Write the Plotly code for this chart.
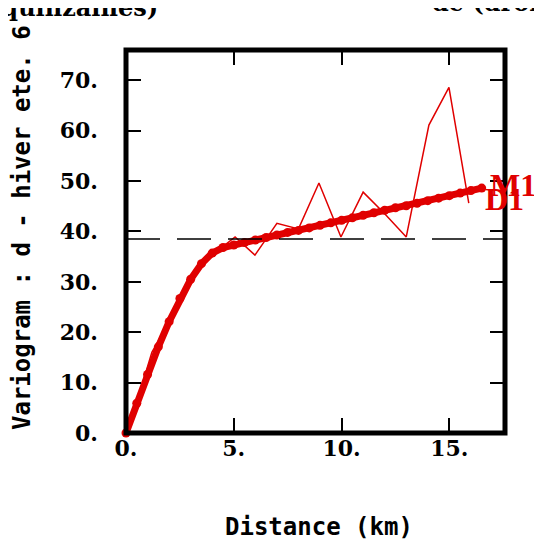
import plotly.graph_objects as go

# Experimental variogram (thin line)
exp_lag = [0, 0.6, 1.2, 2.0, 2.8, 3.5, 4.2, 5.06, 5.98, 7.0, 8.0, 8.95, 9.97, 11.0, 12.0, 13.0, 14.05, 14.98, 15.9]
exp_gamma = [0, 7.5, 16.0, 22.0, 29.0, 33.5, 36.0, 38.9, 35.3, 41.6, 40.5, 49.6, 38.9, 47.8, 43.5, 38.9, 61.1, 68.6, 45.6]

# Model variogram (thick line with dots)
mod_lag = [0, 0.5, 1.0, 1.5, 2.0, 2.5, 3.0, 3.5, 4.0, 4.5, 5.0, 5.5, 6.0, 6.5, 7.0, 7.5, 8.0,
           8.5, 9.0, 9.5, 10.0, 10.5, 11.0, 11.5, 12.0, 12.5, 13.0, 13.5, 14.0, 14.5, 15.0,
           15.5, 16.0, 16.5]
mod_gamma = [0, 5.9, 11.6, 17.1, 22.1, 26.7, 30.5, 33.6, 35.7, 36.8, 37.3, 37.8, 38.3, 38.8,
             39.3, 39.8, 40.2, 40.7, 41.2, 41.7, 42.2, 42.7, 43.2, 43.7, 44.2, 44.7, 45.1,
             45.6, 46.1, 46.6, 47.1, 47.6, 48.1, 48.6]

sill = 38.5

x_ticks = [0, 5, 10, 15]
x_ticktext = ["0.", "5.", "10.", "15."]
y_ticks = [0, 10, 20, 30, 40, 50, 60, 70]
y_ticktext = ["0.", "10.", "20.", "30.", "40.", "50.", "60.", "70."]

label_text = ["M1", "D1"]

RED = "#e00000"

# plot area in window pixels (page body has an 8px margin)
PL, PR, PT, PB = 126, 505, 50, 433
PW, PH = PR - PL, PB - PT
FW, FH = 534, 543


def px(xp):
    return (xp - PL) / PW


def py(yp):
    return (PB - yp) / PH


fig = go.Figure()
fig.add_trace(go.Scatter(x=mod_lag, y=mod_gamma, mode="lines+markers",
                         line=dict(color=RED, width=7),
                         marker=dict(color=RED, size=9),
                         showlegend=False, cliponaxis=False))
fig.add_trace(go.Scatter(x=exp_lag, y=exp_gamma, mode="lines",
                         line=dict(color=RED, width=1.5),
                         showlegend=False))

fig.add_shape(type="line", xref="paper", x0=0, x1=1, yref="y", y0=sill, y1=sill,
              line=dict(color="black", width=1.5, dash="34px,17px"))
fig.add_shape(type="rect", xref="paper", yref="paper", x0=0, x1=1, y0=0, y1=1,
              line=dict(color="black", width=5), layer="above")

label_pos = [(513, 185), (504, 199)]
for t, (lx, ly) in zip(label_text, label_pos):
    fig.add_annotation(x=px(lx), y=py(ly), xref="paper", yref="paper", text=t, showarrow=False,
                       xanchor="center", yanchor="middle",
                       font=dict(family="Liberation Serif", size=32, color=RED, weight="bold"))

tickfont = dict(family="DejaVu Serif", size=22, color="black", weight="bold")
axfont = dict(family="DejaVu Sans Mono", size=24, color="black", weight="bold")

fig.update_xaxes(range=[0, 17.58], tickvals=x_ticks, ticktext=x_ticktext,
                 ticks="inside", ticklen=15, tickwidth=2, tickcolor="black",
                 showline=False, mirror="ticks",
                 showgrid=False, zeroline=False, tickfont=tickfont, ticklabelstandoff=0)
fig.update_yaxes(range=[0, 76], tickvals=y_ticks, ticktext=y_ticktext,
                 ticks="inside", ticklen=15, tickwidth=2, tickcolor="black",
                 showline=False, mirror="ticks",
                 showgrid=False, zeroline=False, tickfont=tickfont, ticklabelstandoff=27)

fig.add_annotation(xref="paper", yref="paper", x=px(319), y=py(527),
                   xanchor="center", yanchor="middle",
                   text="Distance (km)", showarrow=False, font=axfont)
fig.add_annotation(xref="paper", yref="paper", x=px(22), y=py(228),
                   xanchor="center", yanchor="middle",
                   text="Variogram : d - hiver ete. 6", textangle=-90, showarrow=False, font=axfont)

titlefont = dict(family="DejaVu Serif", size=24, color="black", weight="bold")
fig.add_annotation(xref="paper", yref="paper", x=px(160), y=py(24),
                   xanchor="right", yanchor="bottom", text="(quinzaines)", showarrow=False, font=titlefont)
fig.add_annotation(xref="paper", yref="paper", x=px(430), y=py(19),
                   xanchor="left", yanchor="bottom", text="de (droite)", showarrow=False, font=titlefont)

fig.update_layout(width=FW, height=FH,
                  margin=dict(l=PL - 8, r=FW - (PR - 8), t=PT - 8, b=FH - (PB - 8)),
                  plot_bgcolor="white", paper_bgcolor="white")

fig.write_html("out.html")
